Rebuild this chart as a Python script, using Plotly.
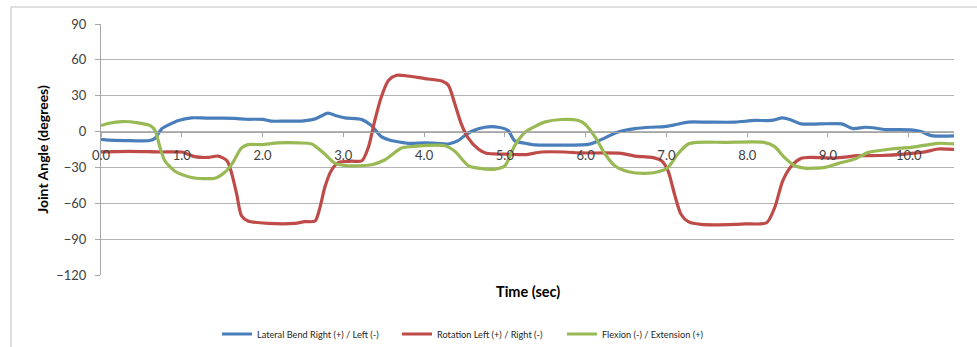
import plotly.graph_objects as go

# ---- data ----
lat_t = [0.0, 0.1, 0.3, 0.6, 0.67, 0.75, 0.85, 0.96, 1.12, 1.3, 1.5, 1.66, 1.8, 2.0, 2.11, 2.3, 2.48, 2.65, 2.81, 2.9, 3.02, 3.23, 3.35, 3.47, 3.56, 3.64, 3.8, 4.01, 4.15, 4.3, 4.42, 4.5, 4.59, 4.75, 4.92, 5.04, 5.12, 5.25, 5.37, 5.6, 5.95, 6.05, 6.15, 6.25, 6.36, 6.5, 6.61, 6.8, 6.98, 7.1, 7.27, 7.5, 7.85, 8.09, 8.3, 8.44, 8.55, 8.67, 8.9, 9.17, 9.31, 9.46, 9.6, 9.7, 10.03, 10.15, 10.28, 10.57]
lat_v = [-6.5, -7.2, -7.5, -7.5, -5.5, 2.2, 6.0, 9.3, 11.5, 11.3, 11.2, 11.0, 10.3, 10.2, 8.7, 8.8, 8.8, 10.6, 15.4, 13.5, 11.5, 10.0, 5.0, -4.2, -6.8, -8.1, -9.8, -9.5, -9.8, -10.4, -7.6, -3.5, 0.3, 3.6, 3.6, 0.8, -7.6, -9.8, -11.2, -11.4, -11.2, -10.5, -8.1, -5.0, -1.4, 1.3, 2.5, 3.6, 4.2, 5.6, 7.9, 7.9, 7.9, 9.3, 9.3, 11.5, 9.5, 6.4, 6.4, 6.4, 2.5, 3.6, 2.8, 1.7, 1.4, 0.0, -3.4, -3.6]

rot_t = [0.0, 0.34, 0.75, 1.0, 1.08, 1.16, 1.33, 1.45, 1.56, 1.62, 1.68, 1.74, 1.82, 2.07, 2.4, 2.52, 2.65, 2.71, 2.77, 2.85, 2.94, 3.1, 3.23, 3.31, 3.39, 3.47, 3.56, 3.66, 3.8, 4.01, 4.22, 4.3, 4.38, 4.46, 4.54, 4.67, 4.77, 5.0, 5.25, 5.45, 5.74, 5.95, 6.44, 6.61, 6.82, 6.94, 7.02, 7.1, 7.18, 7.27, 7.43, 7.85, 7.97, 8.24, 8.34, 8.44, 8.55, 8.67, 8.79, 9.08, 9.37, 9.66, 9.95, 10.2, 10.36, 10.57]
rot_v = [-17.0, -16.5, -17.1, -17.1, -19.0, -21.0, -21.6, -20.5, -24.4, -35.6, -52.4, -70.6, -74.9, -76.8, -76.8, -75.4, -74.9, -63.6, -46.8, -32.8, -25.8, -24.8, -24.4, -13.2, 9.3, 28.9, 42.9, 47.1, 46.5, 44.3, 42.3, 38.7, 23.3, 6.4, -4.8, -14.6, -18.2, -18.8, -19.3, -17.1, -17.1, -17.9, -18.2, -20.5, -21.6, -24.4, -32.8, -52.4, -69.2, -75.4, -77.7, -77.7, -77.2, -76.3, -63.6, -41.2, -28.6, -22.4, -21.6, -22.1, -20.2, -20.0, -18.8, -17.0, -14.6, -15.0]

flx_t = [0.0, 0.1, 0.26, 0.46, 0.61, 0.67, 0.73, 0.79, 0.92, 1.12, 1.41, 1.53, 1.62, 1.74, 1.82, 1.99, 2.19, 2.45, 2.61, 2.77, 2.9, 3.06, 3.35, 3.51, 3.72, 3.84, 4.26, 4.38, 4.55, 4.67, 4.88, 5.0, 5.12, 5.25, 5.35, 5.49, 5.7, 5.91, 5.99, 6.12, 6.24, 6.36, 6.53, 6.73, 6.9, 7.02, 7.14, 7.27, 7.39, 7.72, 8.21, 8.34, 8.46, 8.59, 8.71, 8.96, 9.13, 9.33, 9.5, 9.78, 10.03, 10.36, 10.57]
flx_v = [5.0, 7.0, 8.4, 7.3, 5.0, 0.8, -13.2, -24.4, -33.4, -38.4, -39.0, -34.2, -27.2, -13.7, -10.9, -10.9, -9.5, -9.5, -10.4, -18.8, -26.6, -28.6, -27.8, -23.8, -13.7, -12.6, -11.8, -16.5, -28.6, -30.6, -31.4, -28.6, -12.0, -0.6, 3.5, 7.9, 10.1, 9.3, 6.4, -4.8, -18.8, -28.6, -33.6, -35.0, -33.6, -30.0, -18.8, -10.4, -9.0, -9.0, -9.0, -12.6, -21.6, -28.6, -30.6, -30.0, -26.6, -23.0, -17.4, -14.6, -13.2, -9.8, -10.4]

series_names = ["Lateral Bend Right (+) / Left (-)", "Rotation Left (+) / Right (-)", "Flexion (-) / Extension (+)"]
series_colors = ["#4A7EBB", "#BE4B48", "#98B954"]

x_ticks = [0, 1, 2, 3, 4, 5, 6, 7, 8, 9, 10]
x_tick_labels = ["0.0", "1.0", "2.0", "3.0", "4.0", "5.0", "6.0", "7.0", "8.0", "9.0", "10.0"]
y_ticks = [-120, -90, -60, -30, 0, 30, 60, 90]
y_range = [-120, 90]

FONT = "Lato"
W, H = 977, 347
L, R, T, B = 101, 23, 24, 5
pw, ph = W - L - R, H - T - B
PLOT_BOTTOM_PX = 275          # pixel row of the lowest gridline (-120)

def px_x(p):
    return (p - L) / pw

def px_y(p):
    return (T + ph - p) / ph

y_domain_low = px_y(PLOT_BOTTOM_PX)
zero_frac = (0 - y_range[0]) / (y_range[1] - y_range[0])
x_axis_pos = y_domain_low + zero_frac * (1 - y_domain_low)

legend_ids = ["legend", "legend2", "legend3"]
legend_left_px = [217, 397, 562]

fig = go.Figure()
for t, v, name, col, lid in zip([lat_t, rot_t, flx_t], [lat_v, rot_v, flx_v],
                                series_names, series_colors, legend_ids):
    fig.add_trace(go.Scatter(x=t, y=v, mode="lines", name=name, legend=lid,
                             line=dict(color=col, width=3.2, shape="spline", smoothing=0.7)))

legend_common = dict(orientation="h", xanchor="left", yanchor="middle", y=px_y(334),
                     font=dict(size=9.2, family=FONT, color="#262626"),
                     bgcolor="rgba(0,0,0,0)", itemwidth=30)

fig.update_layout(
    width=W, height=H,
    margin=dict(l=L, r=R, t=T, b=B, pad=0, autoexpand=False),
    paper_bgcolor="white", plot_bgcolor="white",
    font=dict(family=FONT, color="#404040"),
    showlegend=True,
    legend=dict(x=px_x(legend_left_px[0]), **legend_common),
    legend2=dict(x=px_x(legend_left_px[1]), **legend_common),
    legend3=dict(x=px_x(legend_left_px[2]), **legend_common),
    xaxis=dict(range=[0, 10.56], tickvals=x_ticks, ticktext=x_tick_labels,
               showgrid=False, zeroline=False, showline=True, linecolor="#a6a6a6", linewidth=1,
               ticks="outside", ticklen=4, tickcolor="#a6a6a6",
               anchor="free", position=x_axis_pos, automargin=False,
               tickfont=dict(size=13, family=FONT, color="#404040"),
               ticklabelstandoff=8),
    yaxis=dict(range=y_range, domain=[y_domain_low, 1], tickvals=y_ticks, showgrid=True,
               gridcolor="#b3b3b3", gridwidth=1, zeroline=False, showline=True,
               linecolor="#a6a6a6", linewidth=1, automargin=False,
               ticks="outside", ticklen=5, tickcolor="#a6a6a6",
               tickfont=dict(size=13, family=FONT, color="#404040"),
               ticklabelstandoff=6,
               title=dict(text="<b>Joint Angle (degrees)</b>", font=dict(size=14, family=FONT, color="#000000"),
                          standoff=4)),
)

fig.add_annotation(text="<b>Time (sec)</b>", xref="paper", yref="paper",
                   x=0.5, y=px_y(291), xanchor="center", yanchor="middle",
                   showarrow=False, font=dict(size=14.5, family=FONT, color="#000000"))

# chart-area border
fig.add_shape(type="rect", xref="paper", yref="paper",
              x0=px_x(11), x1=px_x(W + 10),
              y0=px_y(H + 10), y1=px_y(7),
              line=dict(color="#bfbfbf", width=1), fillcolor="rgba(0,0,0,0)", layer="below")

fig.write_html("out.html", config={"displayModeBar": False},
               post_script="document.body.style.margin='0px';document.body.style.overflow='hidden';")
